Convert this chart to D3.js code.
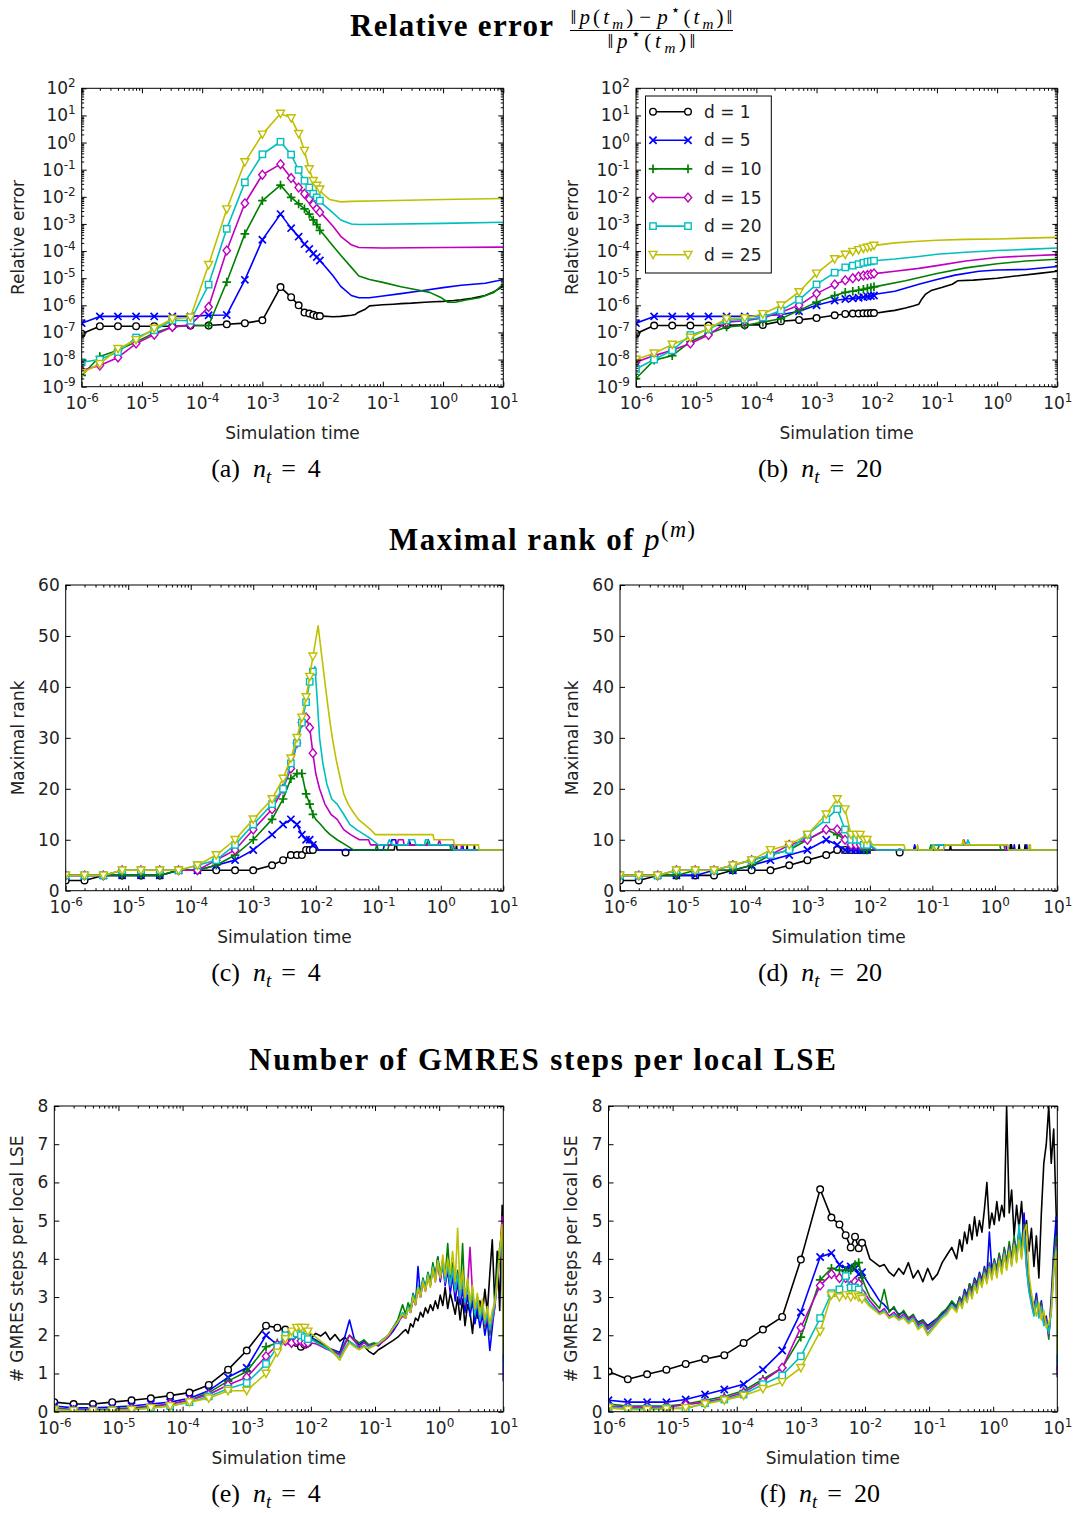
<!DOCTYPE html>
<html>
<head>
<meta charset="utf-8">
<script src="https://cdn.jsdelivr.net/npm/d3@7"></script>
<style>
  html, body { margin: 0; padding: 0; background: #ffffff; }
  svg { display: block; }
</style>
</head>
<body>
<script>
// ---------------------------------------------------------------------------
// Data
// ---------------------------------------------------------------------------
const dims = [1, 5, 10, 15, 20, 25];
const timeDomain = [1e-6, 10];
const xTickExponents = [-6, -5, -4, -3, -2, -1, 0, 1];
const errTickExponents = [-9, -8, -7, -6, -5, -4, -3, -2, -1, 0, 1, 2];
const rankTicks = [0, 10, 20, 30, 40, 50, 60];
const gmresTicks = [0, 1, 2, 3, 4, 5, 6, 7, 8];

// time levels that carry a marker
const markTimes = [1e-6, 2e-6, 4e-6, 8e-6, 1.6e-5, 3.2e-5, 6.4e-5, 1.28e-4, 2.56e-4,
  5.12e-4, 1e-3, 2e-3, 3e-3, 4e-3, 5e-3, 6e-3, 7e-3, 8e-3, 9e-3];

// relative error, n_t = 4 (one row per d)
const relErr4Marked = [
  [9e-8, 1.7e-7, 1.7e-7, 1.7e-7, 1.7e-7, 1.7e-7, 1.8e-7, 1.8e-7, 2e-7, 2.2e-7, 2.8e-7, 4.7e-6, 2e-6, 1e-6, 5.4e-7, 5e-7, 4.5e-7, 4e-7, 4e-7],
  [2.2e-7, 3.9e-7, 3.9e-7, 3.9e-7, 3.9e-7, 3.9e-7, 3.9e-7, 4.3e-7, 4.4e-7, 8.7e-6, 2.6e-4, 2.3e-3, 7e-4, 3.4e-4, 1.8e-4, 1.2e-4, 8e-5, 6e-5, 4.5e-5],
  [2.6e-9, 1.3e-8, 2.2e-8, 4.5e-8, 9.5e-8, 1.6e-7, 1.8e-7, 1.8e-7, 7.2e-6, 4.3e-4, 7.2e-3, 2.7e-2, 9.5e-3, 5.5e-3, 3.6e-3, 2.3e-3, 1.4e-3, 9.5e-4, 5.8e-4],
  [4e-9, 6e-9, 1.2e-8, 3.9e-8, 8.3e-8, 1.6e-7, 1.9e-7, 8.7e-7, 1.05e-4, 5.8e-3, 6.5e-2, 0.16, 4.9e-2, 2.2e-2, 1.3e-2, 8.3e-3, 5.2e-3, 3.6e-3, 2.7e-3],
  [8e-9, 1e-8, 1.9e-8, 6.5e-8, 1.2e-7, 2.8e-7, 2.7e-7, 5.8e-6, 6.6e-4, 3.4e-2, 0.37, 1.07, 0.36, 9.8e-2, 3.9e-2, 2.2e-2, 1.3e-2, 9.5e-3, 7.2e-3],
  [3.2e-9, 7e-9, 2.5e-8, 5.3e-8, 1.4e-7, 3.2e-7, 3.6e-7, 3.1e-5, 3.5e-3, 0.19, 2.0, 11.8, 8, 2.1, 0.5, 0.105, 3.9e-2, 2.6e-2, 1.9e-2]
];
const relErr4Tail = [
  [[0.01, 4e-7], [0.015, 3.8e-7], [0.02, 3.9e-7], [0.03, 4.3e-7], [0.035, 4.6e-7], [0.038, 5.3e-7], [0.05, 7e-7], [0.06, 9.5e-7], [0.08, 1e-6], [0.1, 1.05e-6], [0.15, 1.1e-6], [0.2, 1.15e-6], [0.3, 1.2e-6], [0.5, 1.3e-6], [0.7, 1.35e-6], [1, 1.4e-6], [1.5, 1.5e-6], [2, 1.6e-6], [3, 1.8e-6], [5, 2.3e-6], [7, 3.2e-6], [10, 5e-6]],
  [[0.01, 3.5e-5], [0.015, 1.2e-5], [0.02, 5e-6], [0.03, 2.3e-6], [0.04, 1.9e-6], [0.06, 1.9e-6], [0.1, 2.2e-6], [0.2, 2.7e-6], [0.5, 3.6e-6], [1, 4.5e-6], [2, 5.5e-6], [5, 6.5e-6], [8, 8e-6], [10, 9e-6]],
  [[0.01, 4.5e-4], [0.015, 1.5e-4], [0.02, 7e-5], [0.03, 2.5e-5], [0.04, 1.2e-5], [0.06, 9e-6], [0.1, 7e-6], [0.2, 4.8e-6], [0.4, 3.6e-6], [0.6, 3e-6], [0.9, 2e-6], [1.2, 1.3e-6], [1.6, 1.3e-6], [2.5, 1.6e-6], [4, 1.9e-6], [7, 3e-6], [10, 6e-6]],
  [[0.01, 2.2e-3], [0.015, 8e-4], [0.02, 3.5e-4], [0.03, 1.7e-4], [0.04, 1.35e-4], [0.1, 1.3e-4], [1, 1.35e-4], [10, 1.4e-4]],
  [[0.01, 5.5e-3], [0.015, 2.5e-3], [0.02, 1.4e-3], [0.03, 1e-3], [0.04, 9.5e-4], [0.1, 9.7e-4], [1, 1.05e-3], [10, 1.15e-3]],
  [[0.01, 1.3e-2], [0.013, 8e-3], [0.02, 6.5e-3], [0.03, 6.8e-3], [0.1, 7.2e-3], [1, 8e-3], [10, 8.7e-3]]
];

// relative error, n_t = 20
const relErr20Marked = [
  [9e-8, 1.8e-7, 1.8e-7, 1.8e-7, 1.8e-7, 1.85e-7, 1.9e-7, 1.9e-7, 2.6e-7, 2.9e-7, 3.4e-7, 4.3e-7, 4.8e-7, 5e-7, 5e-7, 5.1e-7, 5.1e-7, 5.2e-7, 5.2e-7],
  [2.2e-7, 3.9e-7, 3.9e-7, 3.9e-7, 3.9e-7, 3.9e-7, 3.9e-7, 4.2e-7, 4.5e-7, 6e-7, 1e-6, 1.5e-6, 1.7e-6, 1.8e-6, 1.9e-6, 2e-6, 2.1e-6, 2.2e-6, 2.3e-6],
  [2e-9, 9.5e-9, 1.4e-8, 4.6e-8, 9e-8, 1.6e-7, 1.8e-7, 2.4e-7, 3.2e-7, 6.5e-7, 1.3e-6, 2.3e-6, 3e-6, 3.3e-6, 3.6e-6, 3.9e-6, 4.2e-6, 4.5e-6, 4.8e-6],
  [8e-9, 1.4e-8, 2.2e-8, 3.9e-8, 8e-8, 2.4e-7, 2.7e-7, 3.4e-7, 5.6e-7, 1e-6, 2.7e-6, 5.9e-6, 8.4e-6, 1e-5, 1.15e-5, 1.25e-5, 1.3e-5, 1.4e-5, 1.5e-5],
  [4.5e-9, 1e-8, 2.2e-8, 8e-8, 1.3e-7, 2.8e-7, 3e-7, 3.6e-7, 6.5e-7, 1.6e-6, 5.9e-6, 1.6e-5, 2.5e-5, 2.9e-5, 3.3e-5, 3.7e-5, 4e-5, 4.2e-5, 4.4e-5],
  [1e-8, 1.7e-8, 3.6e-8, 6.5e-8, 1.4e-7, 3.2e-7, 3.4e-7, 4.8e-7, 1e-6, 3.1e-6, 1.5e-5, 5.1e-5, 7.4e-5, 9.5e-5, 1.1e-4, 1.25e-4, 1.35e-4, 1.45e-4, 1.6e-4]
];
const relErr20Tail = [
  [[0.01, 5.2e-7], [0.015, 6e-7], [0.02, 6.5e-7], [0.03, 8e-7], [0.04, 9.5e-7], [0.05, 1.1e-6], [0.055, 1.6e-6], [0.065, 2.6e-6], [0.08, 3.5e-6], [0.12, 4.5e-6], [0.18, 6e-6], [0.22, 8e-6], [0.4, 8.5e-6], [1, 1e-5], [2, 1.2e-5], [5, 1.5e-5], [10, 1.8e-5]],
  [[0.01, 2.6e-6], [0.02, 3.3e-6], [0.05, 6e-6], [0.1, 9e-6], [0.2, 1.3e-5], [0.5, 1.8e-5], [1, 2e-5], [3, 2.1e-5], [10, 2.7e-5]],
  [[0.01, 5e-6], [0.03, 8e-6], [0.1, 1.5e-5], [0.3, 2.4e-5], [1, 3.4e-5], [3, 4.3e-5], [10, 5e-5]],
  [[0.01, 1.5e-5], [0.02, 1.8e-5], [0.05, 2.3e-5], [0.1, 2.9e-5], [0.3, 4.3e-5], [1, 5.8e-5], [3, 6.6e-5], [10, 7.4e-5]],
  [[0.01, 4.5e-5], [0.02, 5.1e-5], [0.05, 6.3e-5], [0.1, 7.6e-5], [0.3, 9e-5], [1, 1.05e-4], [3, 1.15e-4], [10, 1.3e-4]],
  [[0.01, 1.65e-4], [0.02, 2e-4], [0.05, 2.3e-4], [0.1, 2.5e-4], [0.3, 2.7e-4], [1, 2.8e-4], [3, 3e-4], [10, 3.2e-4]]
];

// maximal rank, n_t = 4
const rank4Marked = [
  [2, 2, 3, 3, 3, 3, 4, 4, 4, 4, 4, 5, 6, 7, 7, 7, 8, 8, 8],
  [3, 3, 3, 3, 3, 3, 4, 4, 5, 6, 8, 11, 13, 14, 13, 11, 10, 10, 9],
  [3, 3, 3, 3, 3, 3, 4, 4, 5, 7, 10, 14, 18, 22, 23, 23, 19, 17, 15],
  [3, 3, 3, 4, 4, 4, 4, 4, 6, 8, 12, 16, 20, 24, 29, 33, 34, 32, 27],
  [3, 3, 3, 4, 4, 4, 4, 5, 6, 9, 13, 17, 20, 25, 29, 33, 37, 41, 43],
  [3, 3, 3, 4, 4, 4, 4, 5, 7, 10, 14, 18, 22, 26, 30, 34, 38, 42, 46]
];
const rank4Tail = [
  [[0.01, 8], [0.025, 8], [0.03, 7.5], [0.035, 8], [0.18, 8], [0.185, 9], [0.195, 9], [0.2, 8], [1.75, 8], [1.78, 9], [1.82, 8], [2.6, 8], [2.64, 9], [2.68, 8], [3.4, 8], [3.45, 9], [3.5, 8], [10, 8]],
  [[0.01, 9], [0.011, 8], [0.12, 8], [0.125, 9], [0.16, 9], [0.165, 10], [0.19, 10], [0.195, 9], [0.3, 9], [0.31, 10], [0.33, 9], [0.6, 9], [0.63, 10], [0.67, 9], [1.5, 9], [1.55, 8], [2.2, 8], [2.25, 9], [2.3, 8], [10, 8]],
  [[0.01, 14], [0.012, 13], [0.014, 12], [0.017, 11], [0.022, 10], [0.03, 9], [0.04, 8], [0.09, 8], [0.095, 9], [0.1, 8], [0.14, 8], [0.15, 9], [0.6, 9], [0.62, 10], [0.66, 9], [1.4, 9], [1.45, 8], [10, 8]],
  [[0.01, 23], [0.0115, 20], [0.014, 17], [0.0175, 15], [0.022, 14], [0.028, 12], [0.036, 11], [0.05, 10], [0.07, 10], [0.075, 9], [0.2, 9], [0.21, 10], [0.25, 10], [0.26, 9], [0.9, 9], [0.95, 10], [1.0, 9], [1.6, 9], [1.65, 8], [2.1, 8], [2.15, 9], [2.2, 8], [10, 8]],
  [[0.0097, 44], [0.0105, 38], [0.0115, 30], [0.013, 25], [0.015, 21], [0.018, 18], [0.022, 17], [0.028, 15], [0.035, 13], [0.045, 12], [0.06, 11], [0.08, 10], [0.1, 9], [0.14, 9], [0.15, 10], [0.17, 9], [0.3, 9], [0.31, 10], [0.38, 10], [0.4, 9], [0.55, 9], [0.57, 10], [0.62, 10], [0.65, 9], [1.5, 9], [1.6, 8], [10, 8]],
  [[0.0109, 52], [0.0125, 46], [0.0143, 40], [0.0165, 34], [0.0184, 30], [0.021, 26], [0.0237, 23], [0.028, 19], [0.033, 17], [0.037, 16], [0.048, 14], [0.06, 13], [0.075, 12], [0.09, 11], [0.75, 11], [0.78, 10], [1.6, 10], [1.65, 9], [4.0, 9], [4.1, 8], [10, 8]]
];

// maximal rank, n_t = 20
const rank20Marked = [
  [2, 2, 3, 3, 3, 3, 4, 4, 4, 5, 6, 7, 8, 8, 8, 8, 8, 8, 8],
  [3, 3, 3, 3, 3, 4, 4, 5, 6, 7, 8, 10, 9, 8, 8, 8, 8, 8, 8],
  [3, 3, 3, 3, 4, 4, 4, 5, 7, 8, 10, 12, 11, 10, 9, 9, 9, 8, 8],
  [3, 3, 3, 4, 4, 4, 5, 6, 7, 9, 10, 12, 12, 10, 9, 9, 9, 9, 9],
  [3, 3, 3, 4, 4, 4, 5, 6, 7, 8, 11, 14, 16, 12, 10, 10, 10, 9, 9],
  [3, 3, 3, 4, 4, 4, 5, 6, 8, 9, 11, 15, 18, 16, 11, 11, 11, 10, 10]
];
const rank20Tail = [
  [[0.01, 8], [0.025, 8], [0.03, 7.5], [0.035, 8], [0.19, 8], [0.195, 9], [0.2, 8], [1.75, 8], [1.77, 9], [1.8, 8], [1.85, 9], [1.9, 8], [2.4, 8], [2.45, 9], [2.5, 8], [3.0, 8], [3.05, 9], [3.1, 8], [10, 8]],
  [[0.01, 8], [0.05, 8], [0.052, 9], [0.055, 8], [0.1, 8], [0.105, 9], [0.11, 8], [0.15, 8], [0.16, 9], [1.5, 9], [1.55, 8], [2.0, 8], [2.05, 9], [2.1, 8], [3.2, 8], [3.25, 9], [3.3, 8], [10, 8]],
  [[0.01, 8], [0.09, 8], [0.095, 9], [0.1, 8], [0.12, 8], [0.13, 9], [1.2, 9], [1.25, 8], [10, 8]],
  [[0.01, 9], [0.012, 8], [0.1, 8], [0.11, 9], [0.3, 9], [0.32, 10], [0.34, 9], [1.4, 9], [1.45, 8], [10, 8]],
  [[0.01, 9], [0.013, 8], [0.095, 8], [0.1, 9], [0.35, 9], [0.37, 10], [0.4, 9], [1.6, 9], [1.65, 8], [10, 8]],
  [[0.01, 10], [0.011, 9], [0.035, 9], [0.037, 8], [0.055, 8], [0.058, 9], [0.06, 8], [0.1, 8], [0.105, 9], [0.11, 8], [0.15, 8], [0.16, 9], [0.3, 9], [0.31, 10], [0.33, 9], [1.6, 9], [1.65, 8], [3.5, 8], [3.55, 9], [3.7, 9], [3.75, 8], [10, 8]]
];
// late marker of the d = 1 rank curve
const rankLateMarks = [[0.03, 7.5]];

// GMRES steps per local LSE
const gmresTailTimes = [0.0100, 0.0119, 0.0142, 0.0169, 0.0200, 0.0238, 0.0283, 0.0337, 0.0400, 0.0476,
  0.0566, 0.0673, 0.0800, 0.0951, 0.113, 0.135, 0.160, 0.190, 0.226, 0.269,
  0.300, 0.328, 0.358, 0.392, 0.428, 0.468, 0.512, 0.559, 0.611, 0.668,
  0.730, 0.798, 0.872, 0.953, 1.04, 1.14, 1.24, 1.36, 1.49, 1.62,
  1.78, 1.94, 2.12, 2.32, 2.53, 2.77, 3.03, 3.31, 3.61, 3.95,
  4.32, 4.72, 5.16, 5.64, 6.16, 6.73, 7.36, 8.04, 8.79, 9.60,
  10.0];

const gmres4Marked = [
  [0.25, 0.2, 0.2, 0.25, 0.3, 0.35, 0.42, 0.5, 0.7, 1.1, 1.6, 2.25, 2.2, 2.15, 2.0, 1.8, 1.7, 1.75, 1.8],
  [0.15, 0.1, 0.1, 0.12, 0.15, 0.2, 0.25, 0.35, 0.55, 0.9, 1.15, 2.0, 1.75, 1.85, 1.95, 1.95, 1.95, 1.95, 1.95],
  [0.1, 0.05, 0.05, 0.07, 0.1, 0.15, 0.2, 0.3, 0.5, 0.8, 1.05, 1.7, 1.8, 1.85, 1.9, 1.9, 1.9, 1.85, 1.85],
  [0.08, 0.04, 0.04, 0.05, 0.08, 0.12, 0.2, 0.3, 0.45, 0.7, 0.9, 1.45, 1.75, 1.85, 1.8, 1.85, 1.85, 1.8, 1.8],
  [0.06, 0.03, 0.03, 0.04, 0.05, 0.1, 0.15, 0.25, 0.4, 0.6, 0.75, 1.25, 1.7, 2.0, 2.0, 2.05, 2.0, 1.95, 1.9],
  [0.05, 0.02, 0.02, 0.03, 0.05, 0.1, 0.15, 0.25, 0.35, 0.55, 0.55, 1.0, 1.55, 1.9, 2.1, 2.2, 2.2, 2.2, 2.1]
];
const gmres4Tail = [
  [1.92, 2.05, 1.98, 2.08, 1.88, 2.02, 1.85, 1.95, 1.82, 1.74,
   1.66, 1.72, 1.58, 1.50, 1.62, 1.70, 1.78, 1.86, 1.95, 2.08,
   2.15, 2.05, 2.30, 2.22, 2.45, 2.38, 2.60, 2.48, 2.72, 2.58,
   2.80, 2.65, 2.90, 2.70, 3.05, 2.78, 3.25, 2.70, 3.10, 2.85,
   2.55, 3.00, 2.40, 2.95, 2.25, 2.80, 2.60, 2.05, 2.75, 2.45,
   2.90, 2.55, 3.20, 2.60, 3.60, 4.50, 2.80, 4.20, 2.65, 5.40,
   2.60],
  [1.95, 1.88, 1.80, 1.72, 1.65, 1.60, 1.55, 1.95, 2.40, 1.90,
   1.75, 1.85, 1.70, 1.78, 1.72, 1.85, 1.95, 2.10, 2.30, 2.55,
   2.45, 2.75, 2.60, 3.00, 2.80, 3.80, 3.00, 3.45, 3.20, 3.60,
   3.35, 3.80, 3.50, 4.05, 3.40, 3.90, 3.30, 3.70, 3.10, 3.55,
   2.90, 3.40, 2.80, 3.20, 2.60, 3.05, 2.50, 2.90, 2.30, 2.70,
   2.20, 2.55, 2.00, 2.40, 1.60, 2.20, 2.80, 3.60, 4.20, 4.60,
   0.80],
  [1.90, 1.85, 1.78, 1.70, 1.62, 1.58, 1.50, 1.80, 2.00, 1.90,
   1.80, 1.88, 1.75, 1.80, 1.78, 1.90, 2.00, 2.20, 2.40, 2.80,
   2.55, 2.85, 2.70, 3.10, 2.90, 3.30, 3.10, 3.50, 3.25, 3.65,
   3.40, 3.90, 3.55, 4.05, 3.60, 4.00, 3.50, 4.40, 3.40, 3.90,
   3.20, 3.70, 3.00, 4.40, 2.80, 3.40, 2.70, 3.20, 2.50, 3.00,
   2.40, 2.80, 2.20, 2.60, 2.00, 2.40, 2.90, 3.70, 4.30, 4.80,
   1.40],
  [1.80, 1.78, 1.72, 1.65, 1.60, 1.55, 1.48, 1.75, 2.00, 1.85,
   1.70, 1.80, 1.72, 1.76, 1.75, 1.85, 1.95, 2.15, 2.35, 2.50,
   2.45, 2.70, 2.60, 2.95, 2.80, 3.20, 3.00, 3.40, 3.15, 3.55,
   3.30, 3.75, 3.40, 3.90, 3.45, 3.85, 3.35, 3.80, 3.25, 3.70,
   3.10, 3.60, 2.95, 3.45, 2.80, 3.30, 4.30, 3.10, 2.60, 2.90,
   2.40, 2.70, 2.25, 2.50, 2.10, 2.35, 2.70, 3.40, 4.00, 5.10,
   1.30],
  [1.90, 1.82, 1.75, 1.68, 1.60, 1.50, 1.42, 1.65, 1.85, 1.75,
   1.65, 1.72, 1.70, 1.74, 1.80, 1.90, 2.00, 2.20, 2.35, 2.60,
   2.50, 2.75, 2.65, 3.05, 2.85, 3.30, 3.05, 3.45, 3.20, 3.60,
   3.30, 3.80, 3.45, 3.95, 3.50, 3.90, 3.40, 3.85, 3.30, 3.75,
   3.15, 3.60, 3.00, 3.50, 2.85, 3.35, 2.75, 3.15, 2.55, 2.95,
   2.40, 2.75, 2.30, 2.60, 2.15, 2.45, 2.80, 3.50, 4.10, 4.70,
   1.20],
  [2.05, 1.95, 1.85, 1.75, 1.65, 1.50, 1.35, 1.60, 1.80, 1.70,
   1.62, 1.70, 1.65, 1.72, 1.78, 1.88, 2.00, 2.18, 2.35, 2.55,
   2.45, 2.70, 2.60, 3.00, 2.80, 3.25, 3.00, 3.40, 3.15, 3.55,
   3.25, 3.75, 3.40, 3.95, 3.50, 4.10, 3.55, 4.00, 3.60, 4.20,
   3.40, 4.80, 3.20, 3.70, 3.00, 3.50, 2.85, 3.30, 2.70, 3.10,
   2.55, 2.95, 2.40, 2.75, 2.30, 2.65, 2.85, 3.40, 4.20, 4.90,
   1.50]
];

const gmres20Marked = [
  [1.05, 0.85, 0.98, 1.1, 1.25, 1.38, 1.48, 1.8, 2.15, 2.48, 3.98, 5.82, 5.08, 4.9, 4.62, 4.3, 4.58, 4.28, 4.42],
  [0.3, 0.25, 0.25, 0.25, 0.32, 0.45, 0.58, 0.72, 1.1, 1.6, 2.6, 4.05, 4.15, 3.85, 3.75, 3.8, 3.75, 3.6, 3.65],
  [0.2, 0.15, 0.15, 0.15, 0.2, 0.3, 0.4, 0.55, 0.85, 1.15, 1.95, 3.45, 3.75, 3.7, 3.7, 3.7, 3.85, 3.9, 3.5],
  [0.15, 0.12, 0.12, 0.12, 0.18, 0.25, 0.35, 0.5, 0.8, 1.15, 2.2, 3.3, 3.6, 3.5, 3.5, 3.3, 3.4, 3.35, 3.1],
  [0.12, 0.08, 0.08, 0.1, 0.08, 0.22, 0.32, 0.45, 0.72, 0.95, 1.45, 2.45, 3.1, 3.2, 3.55, 3.25, 3.25, 3.2, 3.0],
  [0.1, 0.05, 0.05, 0.07, 0.1, 0.2, 0.3, 0.42, 0.6, 0.78, 1.15, 2.1, 3.05, 3.0, 3.05, 3.0, 3.05, 3.0, 2.95]
];
const gmres20Tail = [
  [4.40, 4.00, 3.90, 3.80, 3.85, 3.65, 3.55, 3.75, 3.60, 3.90,
   3.50, 3.70, 3.40, 3.75, 3.45, 3.60, 3.90, 4.10, 4.30, 4.00,
   4.50, 4.20, 4.70, 4.40, 4.90, 4.50, 5.10, 4.60, 5.00, 4.70,
   5.30, 6.00, 4.80, 5.20, 4.90, 5.50, 5.00, 5.40, 5.10, 8.00,
   5.20, 5.80, 4.60, 5.40, 4.80, 5.50, 4.50, 5.00, 4.20, 4.80,
   3.80, 4.60, 3.50, 5.20, 6.50, 7.00, 8.00, 6.50, 7.40, 5.20,
   4.00],
  [3.50, 3.30, 3.10, 2.90, 2.80, 2.65, 2.70, 2.55, 2.60, 2.45,
   2.50, 2.35, 2.40, 2.25, 2.35, 2.45, 2.55, 2.70, 2.85, 2.75,
   3.00, 2.90, 3.20, 3.05, 3.35, 3.20, 3.50, 3.35, 3.65, 3.45,
   3.80, 3.55, 4.70, 3.70, 3.95, 3.75, 4.10, 3.85, 4.25, 3.90,
   4.35, 4.00, 4.50, 4.10, 4.70, 4.30, 5.20, 4.00, 3.40, 3.00,
   2.70, 3.10, 2.60, 2.90, 2.40, 2.50, 2.00, 3.00, 4.20, 5.10,
   0.90],
  [3.30, 3.00, 2.85, 2.70, 3.20, 2.60, 2.75, 2.50, 2.65, 2.45,
   2.55, 2.30, 2.40, 2.20, 2.30, 2.45, 2.60, 2.70, 2.90, 2.75,
   3.00, 2.85, 3.15, 3.00, 3.35, 3.15, 3.45, 3.30, 3.60, 3.40,
   3.75, 3.55, 3.90, 3.65, 4.00, 3.75, 4.15, 3.80, 4.30, 3.90,
   4.45, 4.00, 4.60, 4.15, 4.75, 4.30, 4.90, 3.90, 3.30, 2.90,
   2.65, 3.00, 2.55, 2.85, 2.35, 2.45, 1.90, 2.80, 4.00, 4.60,
   1.10],
  [3.10, 2.90, 2.75, 2.60, 2.70, 2.50, 2.60, 2.45, 2.55, 2.40,
   2.50, 2.25, 2.35, 2.15, 2.25, 2.40, 2.50, 2.65, 2.80, 2.70,
   2.95, 2.80, 3.10, 2.95, 3.25, 3.05, 3.40, 3.20, 3.55, 3.35,
   3.70, 3.45, 3.85, 3.55, 3.95, 3.60, 4.05, 3.70, 4.20, 3.80,
   4.30, 3.90, 4.45, 4.00, 4.60, 4.10, 4.80, 3.80, 3.20, 2.85,
   2.55, 2.95, 2.50, 2.80, 2.30, 2.40, 2.00, 2.70, 3.80, 4.40,
   1.00],
  [3.00, 2.80, 2.70, 2.55, 2.65, 2.45, 2.55, 2.40, 2.50, 2.35,
   2.45, 2.20, 2.30, 2.05, 2.20, 2.35, 2.50, 2.60, 2.80, 2.65,
   2.90, 2.75, 3.05, 2.90, 3.20, 3.00, 3.35, 3.15, 3.50, 3.30,
   3.65, 3.40, 3.80, 3.50, 3.90, 3.55, 4.00, 3.65, 4.15, 3.75,
   4.25, 3.85, 4.40, 3.95, 4.90, 4.05, 4.75, 3.75, 3.15, 2.80,
   2.50, 2.90, 2.45, 2.75, 2.25, 2.35, 2.05, 2.60, 3.70, 4.30,
   1.20],
  [2.90, 2.75, 2.65, 2.55, 2.60, 2.45, 2.50, 2.40, 2.45, 2.30,
   2.40, 2.15, 2.25, 2.00, 2.15, 2.30, 2.45, 2.55, 2.75, 2.60,
   2.85, 2.70, 3.00, 2.85, 3.15, 2.95, 3.30, 3.10, 3.45, 3.25,
   3.60, 3.35, 3.75, 3.45, 3.85, 3.50, 3.95, 3.60, 4.10, 3.70,
   4.20, 3.80, 4.35, 3.90, 4.50, 4.00, 4.70, 4.90, 3.60, 3.10,
   2.75, 2.50, 2.85, 2.40, 2.65, 2.20, 2.30, 2.60, 3.60, 4.20,
   1.50]
];

// ---------------------------------------------------------------------------
// Styling
// ---------------------------------------------------------------------------
const colors = ['#000000', '#0000ff', '#008000', '#bf00bf', '#00bfbf', '#bfbf00'];
const shapes = ['o', 'x', '+', 'D', 's', 'v'];
const SANS = 'DejaVu Sans';
const SERIF = 'Liberation Serif';
const LINE_W = 1.6;

const svg = d3.select('body').append('svg')
  .attr('width', 1078).attr('height', 1513)
  .style('background', '#ffffff');
const defs = svg.append('defs');

function drawMarker(g, shape, cx, cy, color) {
  if (shape === 'o') {
    g.append('circle').attr('cx', cx).attr('cy', cy).attr('r', 3.3)
      .attr('fill', '#ffffff').attr('stroke', color).attr('stroke-width', 1.4);
  } else if (shape === 'x') {
    const s = 3.6;
    g.append('path').attr('d', `M${cx - s},${cy - s}L${cx + s},${cy + s}M${cx - s},${cy + s}L${cx + s},${cy - s}`)
      .attr('stroke', color).attr('stroke-width', 1.7).attr('fill', 'none');
  } else if (shape === '+') {
    const s = 4.3;
    g.append('path').attr('d', `M${cx - s},${cy}L${cx + s},${cy}M${cx},${cy - s}L${cx},${cy + s}`)
      .attr('stroke', color).attr('stroke-width', 1.7).attr('fill', 'none');
  } else if (shape === 'D') {
    const w = 3.7, h = 4.4;
    g.append('path').attr('d', `M${cx},${cy - h}L${cx + w},${cy}L${cx},${cy + h}L${cx - w},${cy}Z`)
      .attr('fill', '#ffffff').attr('stroke', color).attr('stroke-width', 1.4);
  } else if (shape === 's') {
    const s = 3.2;
    g.append('rect').attr('x', cx - s).attr('y', cy - s).attr('width', 2 * s).attr('height', 2 * s)
      .attr('fill', '#ffffff').attr('stroke', color).attr('stroke-width', 1.4);
  } else if (shape === 'v') {
    g.append('path').attr('d', `M${cx - 4},${cy - 3.3}L${cx + 4},${cy - 3.3}L${cx},${cy + 4}Z`)
      .attr('fill', '#ffffff').attr('stroke', color).attr('stroke-width', 1.4);
  }
}

// writes "10" with a raised exponent into an axis tick label
function powerLabel(textSel, exponent) {
  textSel.text(null);
  textSel.append('tspan').text('10');
  textSel.append('tspan').attr('dy', -7).attr('font-size', 12).text(String(exponent));
}

// rich text with italic / sub / sup runs and optional extra gaps
function richText(parent, x, y, parts, opts) {
  const t = parent.append('text').attr('x', x).attr('y', y)
    .attr('font-family', opts.family).attr('font-size', opts.size)
    .attr('text-anchor', opts.anchor || 'start').attr('fill', '#000');
  let shift = 0;
  parts.forEach(p => {
    const ts = t.append('tspan').text(p.t);
    const target = p.sub ? opts.size * 0.24 : (p.sup ? -opts.size * 0.42 : 0);
    if (target !== shift) { ts.attr('dy', target - shift); shift = target; }
    if (p.dx) ts.attr('dx', p.dx);
    if (p.i) ts.attr('font-style', 'italic');
    if (p.b) ts.attr('font-weight', 'bold');
    if (p.sub || p.sup) ts.attr('font-size', opts.size * 0.72);
    if (p.family) ts.attr('font-family', p.family);
  });
  if (opts.width) t.attr('textLength', opts.width).attr('lengthAdjust', 'spacing');
  return t;
}

function drawPanel(cfg) {
  const { id, x0, x1, y0, y1 } = cfg;
  const g = svg.append('g').attr('class', 'panel-' + id);
  const x = d3.scaleLog().domain(timeDomain).range([x0, x1]);
  const y = cfg.log
    ? d3.scaleLog().domain([1e-9, 1e2]).range([y1, y0])
    : d3.scaleLinear().domain([0, cfg.yMax]).range([y1, y0]);

  defs.append('clipPath').attr('id', 'clip-' + id)
    .append('rect').attr('x', x0).attr('y', y0).attr('width', x1 - x0).attr('height', y1 - y0);
  const plot = g.append('g').attr('clip-path', `url(#clip-${id})`);

  const line = d3.line().x(d => x(d[0])).y(d => y(d[1]));
  cfg.marked.forEach((vals, i) => {
    const pts = markTimes.map((t, j) => [t, vals[j]]).concat(cfg.tail[i]);
    plot.append('path').datum(pts).attr('d', line)
      .attr('fill', 'none').attr('stroke', colors[i]).attr('stroke-width', LINE_W)
      .attr('stroke-linejoin', 'round');
    const mg = plot.append('g');
    markTimes.forEach((t, j) => drawMarker(mg, shapes[i], x(t), y(vals[j]), colors[i]));
    if (i === 0 && cfg.lateMarks) {
      cfg.lateMarks.forEach(d => drawMarker(mg, shapes[0], x(d[0]), y(d[1]), colors[0]));
    }
  });

  // ticks (inside, all four sides)
  const majorX = xTickExponents.map(e => Math.pow(10, e));
  const minorX = [];
  xTickExponents.slice(0, -1).forEach(e => { for (let m = 2; m <= 9; m++) minorX.push(m * Math.pow(10, e)); });

  const axG = g.append('g');
  const tidy = s => { s.select('.domain').remove(); s.attr('font-family', SANS).attr('font-size', 17); };

  axG.append('g').attr('transform', `translate(0,${y1})`)
    .call(d3.axisBottom(x).tickValues(majorX).tickSize(-5).tickSizeOuter(0).tickPadding(10).tickFormat(() => ''))
    .call(tidy)
    .selectAll('.tick text').each(function (d) { powerLabel(d3.select(this), Math.round(Math.log10(d))); });
  axG.append('g').attr('transform', `translate(0,${y1})`)
    .call(d3.axisBottom(x).tickValues(minorX).tickSize(-2.5).tickSizeOuter(0).tickFormat(() => '')).call(tidy);
  axG.append('g').attr('transform', `translate(0,${y0})`)
    .call(d3.axisTop(x).tickValues(majorX).tickSize(-5).tickSizeOuter(0).tickFormat(() => '')).call(tidy);
  axG.append('g').attr('transform', `translate(0,${y0})`)
    .call(d3.axisTop(x).tickValues(minorX).tickSize(-2.5).tickSizeOuter(0).tickFormat(() => '')).call(tidy);

  if (cfg.log) {
    const majorY = errTickExponents.map(e => Math.pow(10, e));
    const minorY = [];
    errTickExponents.slice(0, -1).forEach(e => { for (let m = 2; m <= 9; m++) minorY.push(m * Math.pow(10, e)); });
    axG.append('g').attr('transform', `translate(${x0},0)`)
      .call(d3.axisLeft(y).tickValues(majorY).tickSize(-5).tickSizeOuter(0).tickPadding(6).tickFormat(() => ''))
      .call(tidy)
      .selectAll('.tick text').each(function (d) { powerLabel(d3.select(this), Math.round(Math.log10(d))); });
    axG.append('g').attr('transform', `translate(${x0},0)`)
      .call(d3.axisLeft(y).tickValues(minorY).tickSize(-2.5).tickSizeOuter(0).tickFormat(() => '')).call(tidy);
    axG.append('g').attr('transform', `translate(${x1},0)`)
      .call(d3.axisRight(y).tickValues(majorY).tickSize(-5).tickSizeOuter(0).tickFormat(() => '')).call(tidy);
    axG.append('g').attr('transform', `translate(${x1},0)`)
      .call(d3.axisRight(y).tickValues(minorY).tickSize(-2.5).tickSizeOuter(0).tickFormat(() => '')).call(tidy);
  } else {
    axG.append('g').attr('transform', `translate(${x0},0)`)
      .call(d3.axisLeft(y).tickValues(cfg.yTicks).tickSize(-5).tickSizeOuter(0).tickPadding(6).tickFormat(d3.format('d')))
      .call(tidy);
    axG.append('g').attr('transform', `translate(${x1},0)`)
      .call(d3.axisRight(y).tickValues(cfg.yTicks).tickSize(-5).tickSizeOuter(0).tickFormat(() => '')).call(tidy);
  }
  axG.selectAll('.tick text').attr('fill', '#222');

  // frame
  g.append('rect').attr('x', x0).attr('y', y0).attr('width', x1 - x0).attr('height', y1 - y0)
    .attr('fill', 'none').attr('stroke', '#000').attr('stroke-width', 1);

  // axis titles
  const cx = (x0 + x1) / 2, cy = (y0 + y1) / 2;
  g.append('text').attr('x', cx).attr('y', y1 + 52).attr('text-anchor', 'middle')
    .attr('font-family', SANS).attr('font-size', 17).attr('fill', '#222').text('Simulation time');
  g.append('text').attr('transform', `translate(${cfg.ylabelX},${cy}) rotate(-90)`)
    .attr('text-anchor', 'middle').attr('font-family', SANS).attr('font-size', 17).attr('fill', '#222')
    .text(cfg.ylabel);

  // sub-figure caption
  richText(svg, cfg.captionX, y1 + 90.5, [
    { t: `(${id})` }, { t: 'n', i: 1, dx: 13 }, { t: 't', i: 1, sub: 1 }, { t: '=', dx: 10 }, { t: cfg.nt, dx: 12 }
  ], { family: SERIF, size: 26, anchor: 'middle' });

  if (cfg.legend) {
    const lx = 645.5, ly = 96, lw = 125.8, lh = 177;
    const lg = g.append('g');
    lg.append('rect').attr('x', lx).attr('y', ly).attr('width', lw).attr('height', lh)
      .attr('fill', '#ffffff').attr('stroke', '#000').attr('stroke-width', 1);
    dims.forEach((d, i) => {
      const ry = ly + 15.7 + i * 28.6;
      lg.append('line').attr('x1', lx + 7.5).attr('x2', lx + 42.5).attr('y1', ry).attr('y2', ry)
        .attr('stroke', colors[i]).attr('stroke-width', LINE_W);
      drawMarker(lg, shapes[i], lx + 7.5, ry, colors[i]);
      drawMarker(lg, shapes[i], lx + 42.5, ry, colors[i]);
      lg.append('text').attr('x', lx + 58.5).attr('y', ry).attr('dy', '0.36em')
        .attr('font-family', SANS).attr('font-size', 17).attr('fill', '#222').text(`d = ${d}`);
    });
  }
}

const gmresTailPairs = tails => tails.map(v => gmresTailTimes.map((t, k) => [t, v[k]]));

// ---------------------------------------------------------------------------
// Section titles
// ---------------------------------------------------------------------------
richText(svg, 553, 36, [{ t: 'Relative error', b: 1 }], { family: SERIF, size: 31, anchor: 'end', width: 203 });
richText(svg, 651.5, 24, [
  { t: '\u2016' }, { t: 'p', i: 1 }, { t: '(' }, { t: 't', i: 1 }, { t: 'm', i: 1, sub: 1 }, { t: ')' },
  { t: '\u2212', dx: 3 }, { t: 'p', i: 1, dx: 3 }, { t: '\u22c6', sup: 1, family: 'DejaVu Sans' }, { t: '(' }, { t: 't', i: 1 },
  { t: 'm', i: 1, sub: 1 }, { t: ')' }, { t: '\u2016' }
], { family: SERIF, size: 21, anchor: 'middle', width: 162 });
svg.append('line').attr('x1', 570).attr('x2', 733).attr('y1', 30.5).attr('y2', 30.5)
  .attr('stroke', '#000').attr('stroke-width', 1);
richText(svg, 651.5, 48, [
  { t: '\u2016' }, { t: 'p', i: 1 }, { t: '\u22c6', sup: 1, family: 'DejaVu Sans' }, { t: '(' }, { t: 't', i: 1 },
  { t: 'm', i: 1, sub: 1 }, { t: ')' }, { t: '\u2016' }
], { family: SERIF, size: 21, anchor: 'middle', width: 88 });

richText(svg, 542, 550, [
  { t: 'Maximal rank of ', b: 1 }, { t: 'p', i: 1 }, { t: '(', sup: 1 }, { t: 'm', i: 1, sup: 1 }, { t: ')', sup: 1 }
], { family: SERIF, size: 31, anchor: 'middle', width: 306 });

richText(svg, 542.5, 1070, [{ t: 'Number of GMRES steps per local LSE', b: 1 }],
  { family: SERIF, size: 31, anchor: 'middle', width: 587 });

// ---------------------------------------------------------------------------
// Panels
// ---------------------------------------------------------------------------
drawPanel({ id: 'a', x0: 81.7, x1: 503.3, y0: 88.3, y1: 386.7, log: true,
  marked: relErr4Marked, tail: relErr4Tail, ylabel: 'Relative error', ylabelX: 24, captionX: 266, nt: '4' });
drawPanel({ id: 'b', x0: 636, x1: 1057.3, y0: 88.3, y1: 386.7, log: true,
  marked: relErr20Marked, tail: relErr20Tail, ylabel: 'Relative error', ylabelX: 578, captionX: 820, nt: '20', legend: true });
drawPanel({ id: 'c', x0: 65.7, x1: 503.3, y0: 585, y1: 890.7, log: false, yMax: 60, yTicks: rankTicks,
  marked: rank4Marked, tail: rank4Tail, lateMarks: rankLateMarks, ylabel: 'Maximal rank', ylabelX: 24, captionX: 266, nt: '4' });
drawPanel({ id: 'd', x0: 620, x1: 1057.3, y0: 585, y1: 890.7, log: false, yMax: 60, yTicks: rankTicks,
  marked: rank20Marked, tail: rank20Tail, lateMarks: rankLateMarks, ylabel: 'Maximal rank', ylabelX: 578, captionX: 820, nt: '20' });
drawPanel({ id: 'e', x0: 54.3, x1: 503.3, y0: 1106, y1: 1411.7, log: false, yMax: 8, yTicks: gmresTicks,
  marked: gmres4Marked, tail: gmresTailPairs(gmres4Tail), ylabel: '# GMRES steps per local LSE', ylabelX: 23, captionX: 266, nt: '4' });
drawPanel({ id: 'f', x0: 608.5, x1: 1057.3, y0: 1106, y1: 1411.7, log: false, yMax: 8, yTicks: gmresTicks,
  marked: gmres20Marked, tail: gmresTailPairs(gmres20Tail), ylabel: '# GMRES steps per local LSE', ylabelX: 577, captionX: 820, nt: '20' });
</script>
</body>
</html>
